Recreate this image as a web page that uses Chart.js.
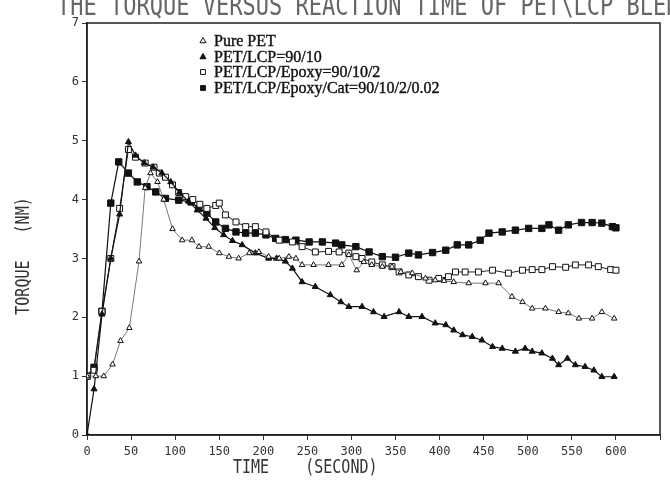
<!DOCTYPE html>
<html>
<head>
<meta charset="utf-8">
<script src="https://cdn.jsdelivr.net/npm/chart.js@4.4.0/dist/chart.umd.min.js"></script>
<style>
  html, body { margin: 0; background: #fff; }
</style>
</head>
<body>
<canvas id="torqueChart" width="670" height="480"></canvas>
<script>
// Dados (tempo em segundos, torque em N.m)
const pureTime = [0, 10, 19, 29, 38, 48, 59, 66, 72, 80, 87, 97, 108, 119, 127, 138, 150, 161, 172, 184, 195, 206, 218, 229, 237, 244, 257, 274, 289, 297, 306, 314, 323, 335, 346, 356, 369, 384, 395, 405, 416, 433, 452, 467, 482, 494, 505, 520, 535, 546, 558, 573, 584, 598];
const pureTorque = [1.0, 1.0, 1.0, 1.2, 1.6, 1.82, 2.95, 4.2, 4.45, 4.3, 4.0, 3.5, 3.31, 3.31, 3.2, 3.2, 3.09, 3.03, 3.0, 3.09, 3.11, 3.03, 3.0, 3.03, 3.0, 2.89, 2.89, 2.89, 2.89, 3.06, 2.8, 2.94, 2.89, 2.86, 2.86, 2.77, 2.75, 2.66, 2.63, 2.62, 2.6, 2.58, 2.58, 2.58, 2.35, 2.26, 2.15, 2.15, 2.09, 2.07, 1.98, 1.98, 2.09, 1.98];

const lcpTime = [0, 8, 17, 27, 37, 47, 55, 65, 75, 85, 95, 105, 115, 125, 135, 145, 155, 165, 176, 191, 206, 215, 225, 233, 244, 259, 276, 288, 297, 312, 325, 337, 354, 365, 380, 395, 407, 416, 426, 437, 448, 460, 471, 486, 497, 505, 516, 528, 535, 545, 554, 565, 575, 584, 598];
const lcpTorque = [0, 0.78, 2.05, 3.0, 3.75, 4.98, 4.75, 4.62, 4.55, 4.45, 4.3, 4.12, 3.97, 3.82, 3.68, 3.52, 3.4, 3.3, 3.23, 3.09, 3.0, 3.0, 2.95, 2.83, 2.6, 2.52, 2.38, 2.26, 2.18, 2.18, 2.09, 2.01, 2.09, 2.01, 2.01, 1.9, 1.87, 1.78, 1.7, 1.67, 1.61, 1.5, 1.47, 1.42, 1.47, 1.42, 1.39, 1.3, 1.19, 1.3, 1.19, 1.16, 1.1, 0.99, 0.99];

const epoxyTime = [0, 8, 17, 27, 37, 47, 55, 66, 76, 82, 89, 97, 104, 112, 120, 128, 136, 146, 150, 157, 169, 180, 191, 203, 218, 233, 244, 259, 274, 286, 297, 305, 312, 323, 335, 346, 354, 365, 376, 388, 399, 410, 418, 429, 444, 460, 478, 494, 505, 516, 528, 543, 554, 569, 580, 594, 600];
const epoxyTorque = [1.0, 1.1, 2.1, 3.0, 3.85, 4.85, 4.72, 4.62, 4.55, 4.45, 4.38, 4.25, 4.12, 4.05, 4.0, 3.92, 3.85, 3.9, 3.94, 3.74, 3.62, 3.54, 3.54, 3.45, 3.31, 3.28, 3.2, 3.11, 3.12, 3.11, 3.09, 3.03, 3.0, 2.94, 2.89, 2.86, 2.77, 2.72, 2.69, 2.63, 2.66, 2.69, 2.77, 2.77, 2.77, 2.8, 2.75, 2.8, 2.81, 2.81, 2.86, 2.85, 2.89, 2.89, 2.86, 2.81, 2.8];

const catTime = [0, 8, 17, 27, 36, 47, 57, 68, 78, 89, 104, 118, 127, 136, 146, 157, 169, 180, 191, 203, 214, 225, 237, 252, 267, 282, 289, 305, 320, 335, 350, 365, 376, 392, 407, 420, 433, 446, 456, 471, 486, 501, 516, 524, 535, 546, 561, 573, 584, 596, 600];
const catTorque = [1.0, 1.15, 2.1, 3.94, 4.64, 4.45, 4.3, 4.22, 4.13, 4.02, 3.99, 3.96, 3.85, 3.77, 3.62, 3.51, 3.45, 3.43, 3.43, 3.4, 3.34, 3.32, 3.31, 3.28, 3.28, 3.26, 3.23, 3.2, 3.11, 3.03, 3.02, 3.09, 3.06, 3.1, 3.14, 3.23, 3.23, 3.31, 3.43, 3.45, 3.48, 3.51, 3.51, 3.57, 3.48, 3.57, 3.61, 3.61, 3.6, 3.54, 3.52];

const seriesLabels = ['Pure PET', 'PET/LCP=90/10', 'PET/LCP/Epoxy=90/10/2', 'PET/LCP/Epoxy/Cat=90/10/2/0.02'];
const xTickMax = 650;
const yTickMax = 7;

const monoFont = '"DejaVu Sans Mono", "Liberation Mono", monospace';

// Junta tempo e torque em pontos {x, y}
function toPoints(times, values) {
    return times.map((t, i) => ({ x: t, y: values[i] }));
}

// Desenha o marcador da legenda
function drawMarker(ctx, style, filled, x, y, r) {
    ctx.beginPath();
    if (style === 'triangle') {
        ctx.moveTo(x, y - r);
        ctx.lineTo(x + r * 0.866, y + r * 0.5);
        ctx.lineTo(x - r * 0.866, y + r * 0.5);
        ctx.closePath();
    } else {
        ctx.rect(x - r * 0.7, y - r * 0.7, r * 1.4, r * 1.4);
    }
    ctx.fillStyle = filled ? '#111' : '#fff';
    ctx.fill();
    ctx.strokeStyle = '#111';
    ctx.lineWidth = 1;
    ctx.stroke();
}

// Plugin para a moldura, títulos e legenda
const decorPlugin = {
    id: 'decor',
    beforeDatasetsDraw(chart) {
        const { ctx, chartArea: a } = chart;
        ctx.save();
        ctx.strokeStyle = '#222';
        ctx.lineWidth = 1.5;
        ctx.strokeRect(a.left, a.top, a.right - a.left, a.bottom - a.top);
        ctx.restore();
    },
    afterDraw(chart) {
        const ctx = chart.ctx;
        ctx.save();
        // título (cortado no topo, como no original)
        ctx.fillStyle = '#666';
        ctx.save();
        ctx.translate(57, 15);
        ctx.scale(1, 1.3);
        ctx.font = '22px ' + monoFont;
        ctx.fillText('THE TORQUE VERSUS REACTION TIME OF PET\\LCP BLENDS', 0, 0);
        ctx.restore();

        // título do eixo X
        ctx.fillStyle = '#333';
        ctx.save();
        ctx.translate(233, 473);
        ctx.scale(1, 1.3);
        ctx.font = '15px ' + monoFont;
        ctx.fillText('TIME    (SECOND)', 0, 0);
        ctx.restore();

        // título do eixo Y
        ctx.save();
        ctx.translate(29, 256);
        ctx.rotate(-Math.PI / 2);
        ctx.scale(1, 1.3);
        ctx.font = '15px ' + monoFont;
        ctx.textAlign = 'center';
        ctx.fillText('TORQUE   (NM)', 0, 0);
        ctx.restore();

        // legenda
        const rows = [41, 57, 72, 88];
        ctx.font = '16px "Liberation Serif", "Times New Roman", serif';
        ctx.textBaseline = 'middle';
        chart.data.datasets.forEach((ds, i) => {
            drawMarker(ctx, ds.pointStyle, ds.pointBackgroundColor !== '#fff', 203, rows[i], 3.5);
            ctx.fillStyle = '#111';
            ctx.strokeStyle = '#111';
            ctx.lineWidth = 0.4;
            ctx.fillText(ds.label, 214, rows[i] + 1);
            ctx.strokeText(ds.label, 214, rows[i] + 1);
        });
        ctx.restore();
    }
};

const ctx = document.getElementById('torqueChart').getContext('2d');
const chart = new Chart(ctx, {
    type: 'scatter',
    data: {
        datasets: [
            {
                label: seriesLabels[0],
                data: toPoints(pureTime, pureTorque),
                showLine: true,
                borderColor: '#555',
                borderWidth: 0.8,
                pointStyle: 'triangle',
                pointRadius: 3.2,
                pointBackgroundColor: '#fff',
                pointBorderColor: '#111',
                pointBorderWidth: 1
            },
            {
                label: seriesLabels[1],
                data: toPoints(lcpTime, lcpTorque),
                showLine: true,
                borderColor: '#111',
                borderWidth: 1.2,
                pointStyle: 'triangle',
                pointRadius: 3.5,
                pointBackgroundColor: '#111',
                pointBorderColor: '#111',
                pointBorderWidth: 1
            },
            {
                label: seriesLabels[2],
                data: toPoints(epoxyTime, epoxyTorque),
                showLine: true,
                borderColor: '#222',
                borderWidth: 1,
                pointStyle: 'rect',
                pointRadius: 4.2,
                pointBackgroundColor: '#fff',
                pointBorderColor: '#111',
                pointBorderWidth: 1
            },
            {
                label: seriesLabels[3],
                data: toPoints(catTime, catTorque),
                showLine: true,
                borderColor: '#111',
                borderWidth: 1.2,
                pointStyle: 'rect',
                pointRadius: 4.5,
                pointBackgroundColor: '#111',
                pointBorderColor: '#111',
                pointBorderWidth: 1
            }
        ]
    },
    options: {
        responsive: false,
        animation: false,
        layout: { padding: { top: 23, right: 10, left: 0, bottom: 0 } },
        plugins: {
            legend: { display: false },
            tooltip: { enabled: false }
        },
        scales: {
            x: {
                type: 'linear',
                min: 0,
                max: xTickMax,
                afterFit: scale => { scale.height = 45; },
                border: { display: true, color: '#222', width: 1.5 },
                grid: { drawOnChartArea: false, drawTicks: true, tickLength: 5, color: '#333' },
                ticks: {
                    stepSize: 50,
                    maxRotation: 0,
                    autoSkip: false,
                    padding: 5,
                    color: '#333',
                    font: { family: monoFont, size: 12 },
                    callback: v => (v === xTickMax ? '' : v)
                }
            },
            y: {
                type: 'linear',
                min: 0,
                max: yTickMax,
                afterFit: scale => { scale.width = 87; },
                border: { display: true, color: '#222', width: 1.5 },
                grid: { drawOnChartArea: false, drawTicks: true, tickLength: 5, color: '#333' },
                ticks: {
                    stepSize: 1,
                    padding: 3,
                    color: '#333',
                    font: { family: monoFont, size: 12 }
                }
            }
        }
    },
    plugins: [decorPlugin]
});
</script>
</body>
</html>
